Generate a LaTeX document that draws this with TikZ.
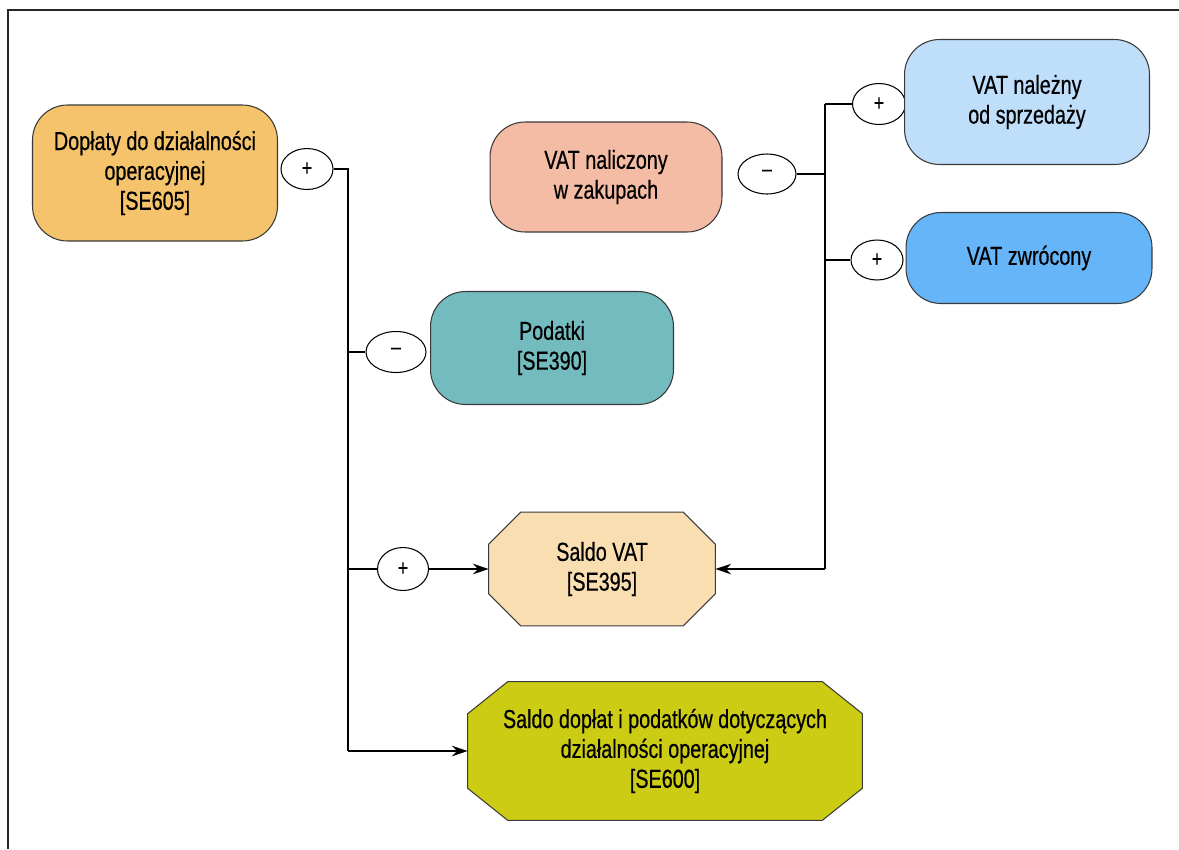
\documentclass[tikz,border=0pt]{standalone}
\usepackage{fontspec}
\setmainfont[FakeStretch=0.76,FakeBold=0.5]{Liberation Sans}
\usetikzlibrary{shapes.geometric,arrows.meta,calc}
\definecolor{cDop}{HTML}{F5C36B}
\definecolor{cPod}{HTML}{73BBBE}
\definecolor{cVN}{HTML}{F5BCA5}
\definecolor{cVNal}{HTML}{BEDEFA}
\definecolor{cVZ}{HTML}{66B5F9}
\definecolor{cSV}{HTML}{F8DEB1}
\definecolor{cSD}{HTML}{CCCC14}
\definecolor{cEdge}{HTML}{3A3A3A}
\begin{document}
\begin{tikzpicture}[x=0.02cm,y=-0.02cm,
  every node/.style={font=\fontsize{14.8}{17}\selectfont, align=center, inner sep=0pt},
  rbox/.style={draw=cEdge, line width=0.6pt, rounded corners=0.7cm},
  sign/.style={ellipse, draw=black, fill=white, line width=0.6pt, font=\fontsize{13}{15}\selectfont},
  conn/.style={line width=1.2pt, draw=black},
  arr/.style={conn, -{Stealth[length=9pt,width=6pt]}},
  frameline/.style={line width=1.6pt, draw=black!85}
]
\useasboundingbox (0,0) rectangle (1179,849);
% frame
\draw[frameline] (1179,10) -- (8,10) -- (8,849);

% left column
\node[rbox, fill=cDop, minimum width=4.9cm, minimum height=2.72cm] (dop) at (155,173) {Dopłaty do działalności\\operacyjnej\\{[}SE605{]}};
\node[sign, minimum width=1.04cm, minimum height=0.82cm] (p1) at (307,169) {+};
\coordinate (t1) at (348,169);
\coordinate (t2) at (348,352);
\coordinate (t3) at (348,569);
\coordinate (t4) at (348,751);

\node[sign, minimum width=1.2cm, minimum height=0.82cm] (m1) at (396,352) {\raisebox{0.15ex}{–}};
\node[rbox, fill=cPod, minimum width=4.86cm, minimum height=2.26cm] (pod) at (552,348) {Podatki\\{[}SE390{]}};

\node[sign, minimum width=1.02cm, minimum height=0.86cm] (p2) at (403,569) {+};

% Saldo VAT octagon
\node[minimum width=4.52cm, minimum height=2.26cm] (sv) at (602,569) {};
\fill[cSV, draw=cEdge, line width=0.6pt]
  ($(sv.north west)+(32,0)$) -- ($(sv.north east)+(-32,0)$) -- ($(sv.north east)+(0,32)$)
  -- ($(sv.south east)+(0,-32)$) -- ($(sv.south east)+(-32,0)$) -- ($(sv.south west)+(32,0)$)
  -- ($(sv.south west)+(0,-32)$) -- ($(sv.north west)+(0,32)$) -- cycle;
\node at (sv.center) {Saldo VAT\\{[}SE395{]}};

% Saldo doplat octagon
\node[minimum width=7.88cm, minimum height=2.76cm] (sd) at (665,751) {};
\fill[cSD, draw=cEdge, line width=0.6pt]
  ($(sd.north west)+(40,0)$) -- ($(sd.north east)+(-40,0)$) -- ($(sd.north east)+(0,32)$)
  -- ($(sd.south east)+(0,-32)$) -- ($(sd.south east)+(-40,0)$) -- ($(sd.south west)+(40,0)$)
  -- ($(sd.south west)+(0,-32)$) -- ($(sd.north west)+(0,32)$) -- cycle;
\node at (sd.center) {Saldo dopłat i podatków dotyczących\\działalności operacyjnej\\{[}SE600{]}};

% right side
\node[rbox, fill=cVN, minimum width=4.64cm, minimum height=2.2cm] (vn) at (606,177) {VAT naliczony\\w zakupach};
\node[sign, minimum width=1.16cm, minimum height=0.8cm] (m2) at (767,174) {\raisebox{0.15ex}{–}};
\coordinate (r0) at (825,174);
\coordinate (r1) at (825,104);
\coordinate (r2) at (825,260);
\coordinate (r3) at (825,569);
\node[sign, minimum width=1.06cm, minimum height=0.82cm] (p3) at (879,104) {+};
\node[rbox, fill=cVNal, minimum width=4.9cm, minimum height=2.5cm] (vnal) at (1027,102) {VAT należny\\od sprzedaży};
\node[sign, minimum width=1.04cm, minimum height=0.8cm] (p4) at (877,260) {+};
\node[rbox, fill=cVZ, minimum width=4.92cm, minimum height=1.82cm] (vz) at (1029,258) {VAT zwrócony};

% connectors left
\draw[conn] (p1.east) -- (t1) -- (t4);
\draw[conn] (t2) -- (m1.west);
\draw[conn] (t3) -- (p2.west);
\draw[arr] (p2.east) -- (sv.west);
\draw[arr] (t4) -- (sd.west);

% connectors right
\draw[conn] (r1) -- (r3);
\draw[conn] (m2.east) -- (r0);
\draw[conn] (r1) -- (p3.west);
\draw[conn] (r2) -- (p4.west);
\draw[arr] (r3) -- (sv.east);
\end{tikzpicture}
\end{document}
